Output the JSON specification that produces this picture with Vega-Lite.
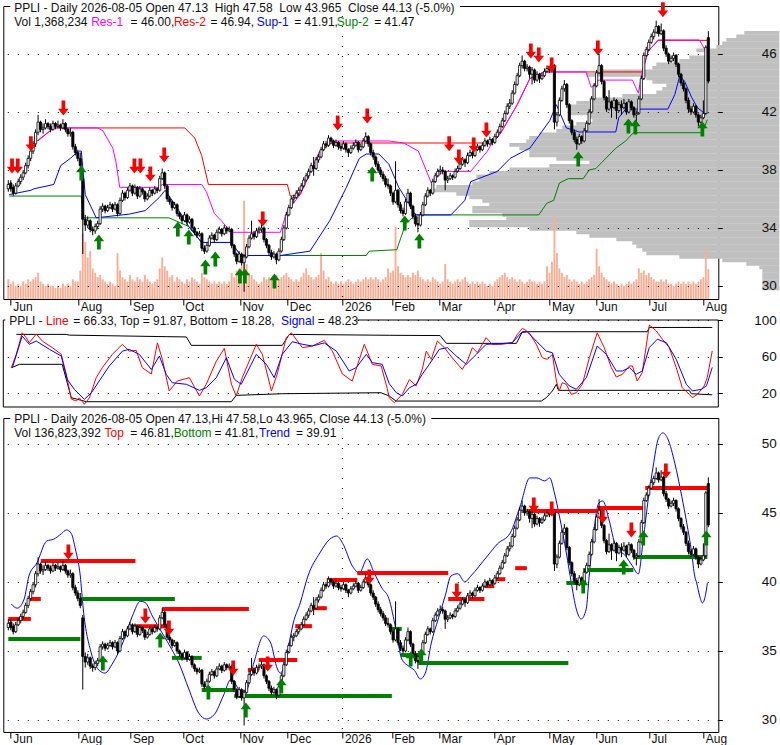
{
"$schema": "https://vega.github.io/schema/vega-lite/v6.json",
"background": "white",
"padding": {"left": 2.3, "top": 1, "right": 0, "bottom": 0},
"bounds": "flush",
"spacing": 11,
"config": {"view": {"stroke": "black", "strokeWidth": 1}, "font": "Liberation Sans"},
"resolve": {"scale": {"color": "independent", "shape": "independent"}},
"datasets": {
"one": [{"k": 1}],
"ohlc": [
{"t":0,"o":36.7,"h":37.3,"l":36.5,"c":37.0,"v":0.9},{"t":1,"o":37.1,"h":37.3,"l":36.5,"c":36.7,"v":0.7},{"t":2,"o":36.8,"h":37.0,"l":36.2,"c":36.4,"v":0.8},{"t":3,"o":36.4,"h":37.1,"l":36.3,"c":36.9,"v":0.6},{"t":4,"o":36.9,"h":37.4,"l":36.8,"c":37.2,"v":0.7},{"t":5,"o":37.2,"h":37.7,"l":37.0,"c":37.5,"v":0.6},{"t":6,"o":37.5,"h":38.0,"l":37.3,"c":37.8,"v":0.8},{"t":7,"o":37.8,"h":38.5,"l":37.7,"c":38.3,"v":0.7},{"t":8,"o":38.3,"h":39.0,"l":38.1,"c":38.8,"v":0.9},{"t":9,"o":38.8,"h":39.5,"l":38.6,"c":39.3,"v":0.8},
{"t":10,"o":39.3,"h":40.0,"l":39.1,"c":39.8,"v":0.9},{"t":11,"o":39.8,"h":40.8,"l":39.6,"c":40.6,"v":1.0},{"t":12,"o":40.6,"h":41.8,"l":40.4,"c":41.3,"v":1.2},{"t":13,"o":41.3,"h":41.4,"l":40.6,"c":40.8,"v":0.8},{"t":14,"o":40.8,"h":41.2,"l":40.5,"c":40.9,"v":0.7},{"t":15,"o":40.9,"h":41.5,"l":40.8,"c":41.2,"v":0.6},{"t":16,"o":41.2,"h":41.3,"l":40.8,"c":41.0,"v":0.7},{"t":17,"o":41.0,"h":41.2,"l":40.6,"c":40.8,"v":0.6},{"t":18,"o":40.8,"h":41.4,"l":40.7,"c":41.2,"v":0.6},{"t":19,"o":41.2,"h":41.3,"l":40.8,"c":41.0,"v":0.5},
{"t":20,"o":41.0,"h":41.4,"l":40.9,"c":41.1,"v":0.6},{"t":21,"o":41.1,"h":41.2,"l":40.7,"c":40.9,"v":0.5},{"t":22,"o":40.9,"h":41.5,"l":40.8,"c":41.2,"v":0.7},{"t":23,"o":41.2,"h":41.3,"l":40.6,"c":40.8,"v":0.6},{"t":24,"o":40.8,"h":40.9,"l":40.3,"c":40.5,"v":0.7},{"t":25,"o":40.5,"h":40.9,"l":40.3,"c":40.6,"v":0.6},{"t":26,"o":40.6,"h":40.7,"l":39.4,"c":39.6,"v":0.9},{"t":27,"o":39.6,"h":39.8,"l":39.0,"c":39.2,"v":0.8},{"t":28,"o":39.2,"h":39.4,"l":38.6,"c":38.8,"v":0.8},{"t":29,"o":38.8,"h":39.2,"l":38.1,"c":38.3,"v":1.3},
{"t":30,"o":37.4,"h":37.6,"l":32.2,"c":34.6,"v":3.0},{"t":31,"o":34.6,"h":34.9,"l":33.8,"c":34.2,"v":2.6},{"t":32,"o":34.2,"h":34.8,"l":34.0,"c":34.5,"v":1.9},{"t":33,"o":34.5,"h":34.6,"l":33.7,"c":33.9,"v":2.2},{"t":34,"o":33.9,"h":34.1,"l":33.5,"c":33.8,"v":1.4},{"t":35,"o":33.8,"h":34.3,"l":33.6,"c":34.1,"v":1.2},{"t":36,"o":34.1,"h":34.5,"l":33.9,"c":34.3,"v":1.0},{"t":37,"o":34.3,"h":35.5,"l":34.2,"c":35.3,"v":1.1},{"t":38,"o":35.3,"h":35.7,"l":35.1,"c":35.5,"v":0.9},{"t":39,"o":35.5,"h":35.6,"l":35.0,"c":35.2,"v":0.8},
{"t":40,"o":35.2,"h":35.6,"l":35.1,"c":35.4,"v":0.7},{"t":41,"o":35.4,"h":35.8,"l":35.3,"c":35.6,"v":0.8},{"t":42,"o":35.6,"h":35.7,"l":35.1,"c":35.3,"v":0.7},{"t":43,"o":35.3,"h":35.8,"l":35.2,"c":35.6,"v":0.6},{"t":44,"o":35.6,"h":35.7,"l":34.8,"c":35.0,"v":2.1},{"t":45,"o":35.0,"h":36.1,"l":34.9,"c":35.9,"v":1.3},{"t":46,"o":35.9,"h":36.6,"l":35.8,"c":36.4,"v":1.0},{"t":47,"o":36.4,"h":36.5,"l":35.9,"c":36.1,"v":0.9},{"t":48,"o":36.1,"h":36.8,"l":36.0,"c":36.6,"v":0.8},{"t":49,"o":36.6,"h":37.1,"l":36.5,"c":36.9,"v":1.1},
{"t":50,"o":36.9,"h":37.0,"l":36.2,"c":36.4,"v":0.9},{"t":51,"o":36.4,"h":37.0,"l":36.3,"c":36.8,"v":0.8},{"t":52,"o":36.8,"h":36.9,"l":36.0,"c":36.2,"v":1.0},{"t":53,"o":36.2,"h":36.9,"l":36.1,"c":36.7,"v":0.9},{"t":54,"o":36.7,"h":36.8,"l":36.3,"c":36.5,"v":0.8},{"t":55,"o":36.5,"h":36.6,"l":35.8,"c":36.0,"v":1.1},{"t":56,"o":36.0,"h":36.4,"l":35.9,"c":36.2,"v":0.9},{"t":57,"o":36.2,"h":36.8,"l":36.1,"c":36.6,"v":0.8},{"t":58,"o":36.6,"h":36.7,"l":36.2,"c":36.4,"v":0.7},{"t":59,"o":36.4,"h":36.9,"l":36.3,"c":36.7,"v":0.8},
{"t":60,"o":36.7,"h":36.8,"l":36.4,"c":36.6,"v":0.9},{"t":61,"o":36.6,"h":37.6,"l":36.5,"c":37.4,"v":1.4},{"t":62,"o":37.4,"h":38.1,"l":37.3,"c":37.8,"v":1.9},{"t":63,"o":37.8,"h":37.9,"l":36.7,"c":36.9,"v":1.5},{"t":64,"o":36.9,"h":37.0,"l":35.8,"c":36.0,"v":1.3},{"t":65,"o":36.0,"h":36.2,"l":35.6,"c":35.8,"v":1.0},{"t":66,"o":35.8,"h":35.9,"l":35.2,"c":35.4,"v":1.1},{"t":67,"o":35.4,"h":35.8,"l":35.3,"c":35.6,"v":0.8},{"t":68,"o":35.6,"h":35.7,"l":34.8,"c":35.0,"v":1.0},{"t":69,"o":35.0,"h":35.1,"l":34.6,"c":34.8,"v":0.9},
{"t":70,"o":34.8,"h":34.9,"l":34.3,"c":34.5,"v":0.8},{"t":71,"o":34.5,"h":35.1,"l":34.4,"c":34.9,"v":0.7},{"t":72,"o":34.9,"h":35.0,"l":34.2,"c":34.4,"v":0.9},{"t":73,"o":34.4,"h":34.8,"l":34.3,"c":34.6,"v":0.8},{"t":74,"o":34.6,"h":34.7,"l":33.8,"c":34.0,"v":1.0},{"t":75,"o":34.0,"h":34.1,"l":33.5,"c":33.7,"v":0.9},{"t":76,"o":33.7,"h":33.8,"l":33.3,"c":33.5,"v":0.8},{"t":77,"o":33.5,"h":33.8,"l":33.4,"c":33.6,"v":0.7},{"t":78,"o":33.6,"h":33.7,"l":32.4,"c":32.6,"v":1.2},{"t":79,"o":32.6,"h":32.8,"l":32.2,"c":32.4,"v":1.0},
{"t":80,"o":32.4,"h":33.0,"l":32.3,"c":32.8,"v":0.9},{"t":81,"o":32.8,"h":33.5,"l":32.7,"c":33.3,"v":0.8},{"t":82,"o":33.3,"h":33.7,"l":33.2,"c":33.5,"v":0.7},{"t":83,"o":33.5,"h":33.6,"l":33.0,"c":33.2,"v":0.8},{"t":84,"o":33.2,"h":33.9,"l":33.1,"c":33.7,"v":0.7},{"t":85,"o":33.7,"h":34.1,"l":33.6,"c":33.9,"v":0.8},{"t":86,"o":33.9,"h":34.0,"l":33.4,"c":33.6,"v":0.7},{"t":87,"o":33.6,"h":34.2,"l":33.5,"c":34.0,"v":0.8},{"t":88,"o":34.0,"h":34.1,"l":33.6,"c":33.8,"v":0.7},{"t":89,"o":33.8,"h":34.1,"l":33.7,"c":33.9,"v":0.8},
{"t":90,"o":33.9,"h":34.0,"l":32.6,"c":32.8,"v":1.2},{"t":91,"o":32.8,"h":32.9,"l":32.0,"c":32.2,"v":1.0},{"t":92,"o":32.2,"h":32.3,"l":31.5,"c":31.7,"v":1.3},{"t":93,"o":31.7,"h":32.4,"l":31.6,"c":32.2,"v":1.4},{"t":94,"o":32.2,"h":32.3,"l":31.4,"c":31.6,"v":1.5},{"t":95,"o":31.6,"h":32.2,"l":29.6,"c":32.0,"v":4.5},{"t":96,"o":32.0,"h":32.9,"l":31.9,"c":32.7,"v":1.6},{"t":97,"o":32.7,"h":33.5,"l":32.6,"c":33.3,"v":1.2},{"t":98,"o":33.3,"h":34.5,"l":33.2,"c":33.6,"v":1.1},{"t":99,"o":33.6,"h":33.8,"l":33.2,"c":33.4,"v":0.9},
{"t":100,"o":33.4,"h":34.0,"l":33.3,"c":33.8,"v":0.8},{"t":101,"o":33.8,"h":34.1,"l":33.6,"c":33.9,"v":0.7},{"t":102,"o":33.9,"h":34.3,"l":33.7,"c":34.0,"v":0.8},{"t":103,"o":34.0,"h":34.1,"l":33.0,"c":33.2,"v":1.0},{"t":104,"o":33.2,"h":33.3,"l":32.6,"c":32.8,"v":0.9},{"t":105,"o":32.8,"h":32.9,"l":32.1,"c":32.3,"v":1.0},{"t":106,"o":32.3,"h":32.5,"l":31.8,"c":32.0,"v":0.9},{"t":107,"o":32.0,"h":32.4,"l":31.9,"c":32.2,"v":0.8},{"t":108,"o":32.2,"h":32.3,"l":31.5,"c":31.8,"v":1.1},{"t":109,"o":31.8,"h":32.6,"l":31.7,"c":32.4,"v":0.9},
{"t":110,"o":32.4,"h":33.4,"l":32.3,"c":33.2,"v":1.0},{"t":111,"o":33.2,"h":34.2,"l":33.1,"c":34.0,"v":1.1},{"t":112,"o":34.0,"h":35.1,"l":33.9,"c":34.9,"v":1.2},{"t":113,"o":34.9,"h":35.6,"l":34.8,"c":35.4,"v":1.0},{"t":114,"o":35.4,"h":36.2,"l":35.3,"c":36.0,"v":0.9},{"t":115,"o":36.0,"h":36.3,"l":35.7,"c":36.1,"v":0.8},{"t":116,"o":36.1,"h":36.6,"l":36.0,"c":36.4,"v":0.9},{"t":117,"o":36.4,"h":36.8,"l":36.2,"c":36.6,"v":0.8},{"t":118,"o":36.6,"h":37.1,"l":36.5,"c":36.9,"v":1.0},{"t":119,"o":36.9,"h":37.5,"l":36.8,"c":37.3,"v":1.2},
{"t":120,"o":37.3,"h":37.8,"l":37.2,"c":37.6,"v":1.4},{"t":121,"o":37.6,"h":38.1,"l":37.4,"c":37.9,"v":1.1},{"t":122,"o":37.9,"h":38.5,"l":37.8,"c":38.3,"v":1.0},{"t":123,"o":38.3,"h":38.9,"l":37.6,"c":38.1,"v":0.9},{"t":124,"o":38.1,"h":38.9,"l":38.0,"c":38.7,"v":1.0},{"t":125,"o":38.7,"h":39.1,"l":38.5,"c":38.9,"v":1.1},{"t":126,"o":38.9,"h":39.6,"l":38.8,"c":39.4,"v":2.1},{"t":127,"o":39.4,"h":40.0,"l":39.3,"c":39.8,"v":1.3},{"t":128,"o":39.8,"h":40.0,"l":39.5,"c":39.7,"v":0.9},{"t":129,"o":39.7,"h":40.4,"l":39.6,"c":40.2,"v":1.0},
{"t":130,"o":40.2,"h":40.3,"l":39.8,"c":40.0,"v":0.8},{"t":131,"o":40.0,"h":40.1,"l":39.5,"c":39.7,"v":0.7},{"t":132,"o":39.7,"h":40.1,"l":39.6,"c":39.9,"v":0.8},{"t":133,"o":39.9,"h":40.0,"l":39.4,"c":39.6,"v":0.7},{"t":134,"o":39.6,"h":39.8,"l":39.3,"c":39.5,"v":0.8},{"t":135,"o":39.5,"h":40.0,"l":39.4,"c":39.8,"v":0.7},{"t":136,"o":39.8,"h":39.9,"l":39.2,"c":39.4,"v":0.8},{"t":137,"o":39.4,"h":39.5,"l":38.9,"c":39.2,"v":0.9},{"t":138,"o":39.2,"h":39.7,"l":39.1,"c":39.5,"v":0.8},{"t":139,"o":39.5,"h":39.9,"l":39.4,"c":39.7,"v":0.7},
{"t":140,"o":39.7,"h":40.1,"l":39.6,"c":39.9,"v":0.8},{"t":141,"o":39.9,"h":40.0,"l":39.2,"c":39.4,"v":0.9},{"t":142,"o":39.4,"h":39.8,"l":39.3,"c":39.6,"v":0.8},{"t":143,"o":39.6,"h":40.2,"l":39.5,"c":40.0,"v":0.9},{"t":144,"o":40.0,"h":40.6,"l":39.9,"c":40.3,"v":1.0},{"t":145,"o":40.3,"h":40.4,"l":39.6,"c":39.8,"v":0.9},{"t":146,"o":39.8,"h":39.9,"l":39.0,"c":39.2,"v":1.0},{"t":147,"o":39.2,"h":39.4,"l":38.7,"c":38.9,"v":0.9},{"t":148,"o":38.9,"h":39.0,"l":38.2,"c":38.4,"v":1.0},{"t":149,"o":38.4,"h":38.6,"l":37.8,"c":38.0,"v":0.9},
{"t":150,"o":38.0,"h":38.2,"l":37.5,"c":37.7,"v":0.8},{"t":151,"o":37.7,"h":37.9,"l":37.2,"c":37.4,"v":0.9},{"t":152,"o":37.4,"h":37.6,"l":36.8,"c":37.0,"v":1.0},{"t":153,"o":37.0,"h":37.4,"l":36.7,"c":36.9,"v":1.4},{"t":154,"o":36.9,"h":37.0,"l":36.2,"c":36.4,"v":1.2},{"t":155,"o":36.4,"h":36.5,"l":35.6,"c":35.8,"v":1.3},{"t":156,"o":35.8,"h":38.6,"l":35.7,"c":36.6,"v":3.3},{"t":157,"o":36.6,"h":36.7,"l":35.4,"c":35.6,"v":1.5},{"t":158,"o":35.6,"h":35.8,"l":35.0,"c":35.2,"v":1.2},{"t":159,"o":35.2,"h":35.4,"l":34.8,"c":35.0,"v":1.1},
{"t":160,"o":35.0,"h":36.0,"l":34.9,"c":35.8,"v":1.0},{"t":161,"o":35.8,"h":36.7,"l":35.7,"c":36.4,"v":1.1},{"t":162,"o":36.4,"h":36.5,"l":35.3,"c":35.5,"v":1.0},{"t":163,"o":35.5,"h":35.6,"l":34.6,"c":34.8,"v":1.2},{"t":164,"o":34.8,"h":35.0,"l":34.1,"c":34.3,"v":1.1},{"t":165,"o":34.3,"h":34.8,"l":33.7,"c":34.2,"v":1.3},{"t":166,"o":34.2,"h":35.1,"l":34.1,"c":34.9,"v":1.0},{"t":167,"o":34.9,"h":35.8,"l":34.8,"c":35.6,"v":0.9},{"t":168,"o":35.6,"h":36.4,"l":35.5,"c":36.2,"v":0.8},{"t":169,"o":36.2,"h":36.8,"l":36.1,"c":36.6,"v":0.9},
{"t":170,"o":36.6,"h":36.7,"l":36.2,"c":36.4,"v":0.8},{"t":171,"o":36.4,"h":37.4,"l":36.3,"c":37.2,"v":1.0},{"t":172,"o":37.2,"h":37.8,"l":37.1,"c":37.6,"v":0.9},{"t":173,"o":37.6,"h":38.1,"l":37.5,"c":37.9,"v":0.8},{"t":174,"o":37.9,"h":38.3,"l":37.7,"c":38.0,"v":0.7},{"t":175,"o":38.0,"h":38.2,"l":37.7,"c":37.9,"v":0.8},{"t":176,"o":37.9,"h":38.0,"l":36.6,"c":37.3,"v":1.6},{"t":177,"o":37.3,"h":37.6,"l":37.1,"c":37.4,"v":0.9},{"t":178,"o":37.4,"h":37.8,"l":37.3,"c":37.6,"v":0.8},{"t":179,"o":37.6,"h":37.7,"l":37.3,"c":37.5,"v":0.7},
{"t":180,"o":37.5,"h":38.1,"l":37.4,"c":37.9,"v":0.8},{"t":181,"o":37.9,"h":38.3,"l":37.8,"c":38.1,"v":0.9},{"t":182,"o":38.1,"h":38.6,"l":38.0,"c":38.4,"v":0.8},{"t":183,"o":38.4,"h":38.9,"l":38.3,"c":38.7,"v":0.9},{"t":184,"o":38.7,"h":38.8,"l":38.2,"c":38.5,"v":1.0},{"t":185,"o":38.5,"h":39.2,"l":38.4,"c":39.0,"v":0.8},{"t":186,"o":39.0,"h":39.4,"l":38.9,"c":39.2,"v":0.7},{"t":187,"o":39.2,"h":39.3,"l":38.8,"c":39.0,"v":0.8},{"t":188,"o":39.0,"h":39.6,"l":38.9,"c":39.4,"v":0.7},{"t":189,"o":39.4,"h":39.8,"l":39.3,"c":39.6,"v":0.8},
{"t":190,"o":39.6,"h":39.7,"l":39.2,"c":39.4,"v":0.7},{"t":191,"o":39.4,"h":39.9,"l":39.3,"c":39.7,"v":0.8},{"t":192,"o":39.7,"h":40.2,"l":39.6,"c":40.0,"v":0.7},{"t":193,"o":40.0,"h":40.1,"l":39.6,"c":39.8,"v":0.6},{"t":194,"o":39.8,"h":40.3,"l":39.7,"c":40.1,"v":0.7},{"t":195,"o":40.1,"h":40.2,"l":39.7,"c":39.9,"v":0.6},{"t":196,"o":39.9,"h":40.5,"l":39.8,"c":40.3,"v":0.8},{"t":197,"o":40.3,"h":40.8,"l":40.2,"c":40.6,"v":0.9},{"t":198,"o":40.6,"h":41.2,"l":40.5,"c":41.0,"v":1.0},{"t":199,"o":41.0,"h":41.6,"l":40.9,"c":41.4,"v":1.1},
{"t":200,"o":41.4,"h":42.1,"l":41.3,"c":41.9,"v":1.2},{"t":201,"o":41.9,"h":42.6,"l":41.8,"c":42.4,"v":1.0},{"t":202,"o":42.4,"h":42.9,"l":42.2,"c":42.6,"v":0.9},{"t":203,"o":42.6,"h":43.5,"l":42.5,"c":43.3,"v":1.0},{"t":204,"o":43.3,"h":44.1,"l":43.2,"c":43.9,"v":0.9},{"t":205,"o":43.9,"h":44.7,"l":43.8,"c":44.5,"v":0.8},{"t":206,"o":44.5,"h":45.4,"l":44.4,"c":45.2,"v":0.9},{"t":207,"o":45.2,"h":45.9,"l":45.0,"c":45.5,"v":0.8},{"t":208,"o":45.5,"h":45.6,"l":44.8,"c":45.0,"v":0.7},{"t":209,"o":45.0,"h":45.3,"l":44.8,"c":45.1,"v":0.8},
{"t":210,"o":45.1,"h":45.2,"l":44.3,"c":44.6,"v":0.9},{"t":211,"o":44.6,"h":45.1,"l":43.9,"c":44.9,"v":0.8},{"t":212,"o":44.9,"h":45.0,"l":44.0,"c":44.2,"v":0.8},{"t":213,"o":44.2,"h":44.8,"l":44.1,"c":44.6,"v":0.7},{"t":214,"o":44.6,"h":44.7,"l":44.0,"c":44.3,"v":0.8},{"t":215,"o":44.3,"h":44.7,"l":44.2,"c":44.5,"v":0.7},{"t":216,"o":44.5,"h":45.0,"l":44.4,"c":44.8,"v":0.8},{"t":217,"o":44.8,"h":45.2,"l":44.7,"c":45.0,"v":1.5},{"t":218,"o":45.0,"h":45.1,"l":44.7,"c":44.9,"v":1.2},{"t":219,"o":44.9,"h":45.4,"l":44.8,"c":45.2,"v":1.7},
{"t":220,"o":45.2,"h":45.3,"l":40.8,"c":41.3,"v":3.8},{"t":221,"o":41.3,"h":42.0,"l":41.0,"c":41.8,"v":2.1},{"t":222,"o":41.8,"h":43.0,"l":41.7,"c":42.8,"v":1.4},{"t":223,"o":42.8,"h":43.8,"l":42.7,"c":43.6,"v":1.2},{"t":224,"o":43.6,"h":44.2,"l":43.4,"c":43.9,"v":1.0},{"t":225,"o":43.9,"h":44.0,"l":42.3,"c":42.5,"v":1.1},{"t":226,"o":42.5,"h":42.6,"l":41.2,"c":41.4,"v":0.9},{"t":227,"o":41.4,"h":41.5,"l":40.4,"c":40.6,"v":0.8},{"t":228,"o":40.6,"h":40.8,"l":39.9,"c":40.1,"v":0.9},{"t":229,"o":40.1,"h":40.3,"l":39.4,"c":39.8,"v":0.8},
{"t":230,"o":39.8,"h":40.5,"l":39.7,"c":40.3,"v":0.7},{"t":231,"o":40.3,"h":40.4,"l":39.8,"c":40.0,"v":0.8},{"t":232,"o":40.0,"h":40.9,"l":39.9,"c":40.7,"v":0.7},{"t":233,"o":40.7,"h":41.4,"l":40.6,"c":41.2,"v":0.8},{"t":234,"o":41.2,"h":42.2,"l":41.1,"c":42.0,"v":0.9},{"t":235,"o":42.0,"h":43.1,"l":41.9,"c":42.9,"v":1.0},{"t":236,"o":42.9,"h":44.0,"l":42.8,"c":43.8,"v":1.1},{"t":237,"o":43.8,"h":44.9,"l":43.7,"c":44.7,"v":2.3},{"t":238,"o":44.7,"h":46.0,"l":44.6,"c":45.2,"v":1.5},{"t":239,"o":45.2,"h":45.3,"l":43.9,"c":44.1,"v":1.2},
{"t":240,"o":44.1,"h":44.2,"l":42.8,"c":43.0,"v":1.0},{"t":241,"o":43.0,"h":43.1,"l":42.0,"c":42.2,"v":0.9},{"t":242,"o":42.2,"h":43.5,"l":42.1,"c":42.7,"v":0.8},{"t":243,"o":42.7,"h":42.8,"l":41.6,"c":42.3,"v":0.7},{"t":244,"o":42.3,"h":43.0,"l":42.2,"c":42.8,"v":0.8},{"t":245,"o":42.8,"h":42.9,"l":41.5,"c":42.1,"v":0.7},{"t":246,"o":42.1,"h":42.7,"l":42.0,"c":42.5,"v":0.6},{"t":247,"o":42.5,"h":42.8,"l":41.8,"c":42.3,"v":0.7},{"t":248,"o":42.3,"h":42.9,"l":42.2,"c":42.6,"v":0.6},{"t":249,"o":42.6,"h":42.7,"l":41.8,"c":42.0,"v":0.7},
{"t":250,"o":42.0,"h":42.9,"l":41.9,"c":42.7,"v":0.8},{"t":251,"o":42.7,"h":42.8,"l":42.1,"c":42.3,"v":0.7},{"t":252,"o":42.3,"h":42.4,"l":41.6,"c":41.8,"v":0.8},{"t":253,"o":41.8,"h":42.1,"l":41.2,"c":41.9,"v":0.9},{"t":254,"o":41.9,"h":43.1,"l":41.8,"c":42.9,"v":1.4},{"t":255,"o":42.9,"h":44.5,"l":42.8,"c":44.3,"v":1.2},{"t":256,"o":44.3,"h":46.1,"l":44.2,"c":45.9,"v":1.3},{"t":257,"o":45.9,"h":46.5,"l":45.8,"c":46.3,"v":1.1},{"t":258,"o":46.3,"h":47.0,"l":46.2,"c":46.8,"v":1.2},{"t":259,"o":46.8,"h":47.4,"l":46.7,"c":47.2,"v":1.0},
{"t":260,"o":47.2,"h":47.7,"l":47.0,"c":47.5,"v":0.9},{"t":261,"o":47.5,"h":48.3,"l":47.4,"c":47.9,"v":0.8},{"t":262,"o":47.9,"h":48.0,"l":47.2,"c":47.4,"v":0.8},{"t":263,"o":47.4,"h":48.1,"l":47.3,"c":47.6,"v":0.9},{"t":264,"o":47.6,"h":47.7,"l":46.2,"c":46.4,"v":0.8},{"t":265,"o":46.4,"h":46.6,"l":45.8,"c":46.0,"v":0.9},{"t":266,"o":46.0,"h":46.1,"l":45.3,"c":45.5,"v":0.7},{"t":267,"o":45.5,"h":45.9,"l":45.4,"c":45.7,"v":0.7},{"t":268,"o":45.7,"h":46.1,"l":45.5,"c":45.9,"v":0.6},{"t":269,"o":45.9,"h":46.0,"l":45.1,"c":45.3,"v":0.7},
{"t":270,"o":45.3,"h":45.4,"l":44.4,"c":44.6,"v":0.8},{"t":271,"o":44.6,"h":44.7,"l":43.8,"c":44.0,"v":0.7},{"t":272,"o":44.0,"h":44.2,"l":43.4,"c":43.6,"v":0.8},{"t":273,"o":43.6,"h":43.7,"l":42.6,"c":42.8,"v":0.7},{"t":274,"o":42.8,"h":43.0,"l":42.0,"c":42.2,"v":0.8},{"t":275,"o":42.2,"h":42.4,"l":41.8,"c":42.0,"v":0.7},{"t":276,"o":42.0,"h":42.6,"l":41.9,"c":42.4,"v":0.8},{"t":277,"o":42.4,"h":42.5,"l":41.6,"c":41.8,"v":0.7},{"t":278,"o":41.8,"h":41.9,"l":41.0,"c":41.3,"v":0.8},{"t":279,"o":41.3,"h":41.8,"l":41.2,"c":41.6,"v":0.9},
{"t":280,"o":41.6,"h":42.8,"l":41.5,"c":41.9,"v":1.0},{"t":281,"o":41.9,"h":46.6,"l":41.8,"c":46.45,"v":2.3},{"t":282,"o":47.13,"h":47.58,"l":43.965,"c":44.13,"v":1.37}
],
"profile": [
{"p":47.75,"pv":35},{"p":47.5,"pv":43},{"p":47.25,"pv":53},{"p":47.0,"pv":57},{"p":46.75,"pv":63},{"p":46.5,"pv":83},{"p":46.25,"pv":70},{"p":46.0,"pv":90},{"p":45.75,"pv":100},{"p":45.5,"pv":123},{"p":45.25,"pv":127},{"p":45.0,"pv":177},{"p":44.75,"pv":193},{"p":44.5,"pv":133},{"p":44.25,"pv":127},{"p":44.0,"pv":113},{"p":43.75,"pv":117},{"p":43.5,"pv":123},{"p":43.25,"pv":157},{"p":43.0,"pv":190},{"p":42.75,"pv":203},{"p":42.5,"pv":213},{"p":42.25,"pv":210},{"p":42.0,"pv":210},{"p":41.75,"pv":190},{"p":41.5,"pv":187},{"p":41.25,"pv":203},{"p":41.0,"pv":217},{"p":40.75,"pv":223},{"p":40.5,"pv":240},{"p":40.25,"pv":250},{"p":40.0,"pv":253},{"p":39.75,"pv":270},{"p":39.5,"pv":260},{"p":39.25,"pv":250},{"p":39.0,"pv":250},{"p":38.75,"pv":223},{"p":38.5,"pv":190},{"p":38.25,"pv":230},{"p":38.0,"pv":270},{"p":37.75,"pv":290},{"p":37.5,"pv":303},{"p":37.25,"pv":300},{"p":37.0,"pv":307},{"p":36.75,"pv":343},{"p":36.5,"pv":347},{"p":36.25,"pv":323},{"p":36.0,"pv":310},{"p":35.75,"pv":297},{"p":35.5,"pv":290},{"p":35.25,"pv":307},{"p":35.0,"pv":307},{"p":34.75,"pv":277},{"p":34.5,"pv":273},{"p":34.25,"pv":310},{"p":34.0,"pv":310},{"p":33.75,"pv":250},{"p":33.5,"pv":203},{"p":33.25,"pv":190},{"p":33.0,"pv":163},{"p":32.75,"pv":147},{"p":32.5,"pv":143},{"p":32.25,"pv":137},{"p":32.0,"pv":133},{"p":31.75,"pv":100},{"p":31.5,"pv":57},{"p":31.25,"pv":33},{"p":31.0,"pv":20},{"p":30.75,"pv":17},{"p":30.5,"pv":17},{"p":30.25,"pv":17},{"p":30.0,"pv":17},{"p":29.75,"pv":17},{"p":29.5,"pv":17}
],
"levels": [
{"t":11.9,"v":40.0,"s":"Res-2"},{"t":18.3,"v":40.9,"s":"Res-2"},{"t":71.1,"v":40.9,"s":"Res-2"},{"t":75.1,"v":40.2,"s":"Res-2"},{"t":77.9,"v":39.0,"s":"Res-2"},{"t":80.6,"v":37.0,"s":"Res-2"},{"t":112.4,"v":37.0,"s":"Res-2"},{"t":113.6,"v":36.2,"s":"Res-2"},{"t":117.6,"v":36.3,"s":"Res-2"},{"t":121.5,"v":37.8,"s":"Res-2"},{"t":125.5,"v":39.3,"s":"Res-2"},{"t":130.3,"v":39.86,"s":"Res-2"},{"t":195,"v":39.86,"s":"Res-2"},{"t":198.2,"v":40.5,"s":"Res-2"},{"t":205,"v":42.5,"s":"Res-2"},{"t":210.1,"v":44.3,"s":"Res-2"},{"t":215.7,"v":44.76,"s":"Res-2"},{"t":255.4,"v":44.76,"s":"Res-2"},{"t":257.8,"v":46.2,"s":"Res-2"},{"t":261.8,"v":46.94,"s":"Res-2"},{"t":281.6,"v":46.94,"s":"Res-2"},
{"t":0.4,"v":36.2,"s":"Sup-2"},{"t":29.4,"v":36.2,"s":"Sup-2"},{"t":30.2,"v":34.7,"s":"Sup-2"},{"t":64.7,"v":34.7,"s":"Sup-2"},{"t":72.7,"v":34.1,"s":"Sup-2"},{"t":77.9,"v":33.0,"s":"Sup-2"},{"t":89.8,"v":33.0,"s":"Sup-2"},{"t":93.7,"v":32.1,"s":"Sup-2"},{"t":144.2,"v":32.1,"s":"Sup-2"},{"t":145.4,"v":32.4,"s":"Sup-2"},{"t":156.5,"v":32.5,"s":"Sup-2"},{"t":160.1,"v":34.3,"s":"Sup-2"},{"t":164,"v":34.9,"s":"Sup-2"},{"t":213.7,"v":34.9,"s":"Sup-2"},{"t":216.9,"v":35.7,"s":"Sup-2"},{"t":219.7,"v":35.9,"s":"Sup-2"},{"t":222,"v":37.1,"s":"Sup-2"},{"t":225.6,"v":37.4,"s":"Sup-2"},{"t":231.6,"v":37.4,"s":"Sup-2"},{"t":234,"v":38.0,"s":"Sup-2"},{"t":236.7,"v":38.1,"s":"Sup-2"},{"t":240.7,"v":38.8,"s":"Sup-2"},{"t":244.7,"v":39.5,"s":"Sup-2"},{"t":248.7,"v":40.0,"s":"Sup-2"},{"t":251.8,"v":40.57,"s":"Sup-2"},{"t":279.6,"v":40.57,"s":"Sup-2"},{"t":281.6,"v":41.47,"s":"Sup-2"},
{"t":0.4,"v":36.3,"s":"Sup-1"},{"t":9.1,"v":36.6,"s":"Sup-1"},{"t":10.3,"v":36.7,"s":"Sup-1"},{"t":18.3,"v":37.0,"s":"Sup-1"},{"t":21.1,"v":38.3,"s":"Sup-1"},{"t":25,"v":38.8,"s":"Sup-1"},{"t":28.2,"v":39.3,"s":"Sup-1"},{"t":29.4,"v":39.3,"s":"Sup-1"},{"t":31,"v":36.3,"s":"Sup-1"},{"t":35.4,"v":34.7,"s":"Sup-1"},{"t":48.9,"v":34.96,"s":"Sup-1"},{"t":55.2,"v":35.2,"s":"Sup-1"},{"t":60.8,"v":36.1,"s":"Sup-1"},{"t":63.2,"v":36.6,"s":"Sup-1"},{"t":68.7,"v":35.2,"s":"Sup-1"},{"t":72.7,"v":34.1,"s":"Sup-1"},{"t":77.9,"v":33.0,"s":"Sup-1"},{"t":89.8,"v":33.0,"s":"Sup-1"},{"t":93.7,"v":32.1,"s":"Sup-1"},{"t":109.6,"v":32.1,"s":"Sup-1"},{"t":121.5,"v":32.4,"s":"Sup-1"},{"t":129.5,"v":34.5,"s":"Sup-1"},{"t":136.2,"v":36.8,"s":"Sup-1"},{"t":141.4,"v":38.8,"s":"Sup-1"},{"t":144.2,"v":39.1,"s":"Sup-1"},{"t":149.3,"v":39.1,"s":"Sup-1"},{"t":153.3,"v":38.4,"s":"Sup-1"},{"t":157.3,"v":36.8,"s":"Sup-1"},{"t":161.3,"v":35.7,"s":"Sup-1"},{"t":164,"v":34.9,"s":"Sup-1"},{"t":178.3,"v":34.9,"s":"Sup-1"},{"t":183.9,"v":35.9,"s":"Sup-1"},{"t":186.3,"v":37.2,"s":"Sup-1"},{"t":197,"v":37.9,"s":"Sup-1"},{"t":202.2,"v":38.8,"s":"Sup-1"},{"t":207.7,"v":39.3,"s":"Sup-1"},{"t":210.1,"v":39.5,"s":"Sup-1"},{"t":218.1,"v":41.4,"s":"Sup-1"},{"t":220.8,"v":42.5,"s":"Sup-1"},{"t":224.8,"v":40.9,"s":"Sup-1"},{"t":230,"v":40.62,"s":"Sup-1"},{"t":244.7,"v":40.62,"s":"Sup-1"},{"t":245.9,"v":41.6,"s":"Sup-1"},{"t":248.7,"v":42.2,"s":"Sup-1"},{"t":265.7,"v":42.2,"s":"Sup-1"},{"t":268.5,"v":43.2,"s":"Sup-1"},{"t":270.5,"v":44.5,"s":"Sup-1"},{"t":272.5,"v":44.1,"s":"Sup-1"},{"t":275.3,"v":43.0,"s":"Sup-1"},{"t":277.6,"v":42.3,"s":"Sup-1"},{"t":280.4,"v":41.91,"s":"Sup-1"},{"t":281.6,"v":41.91,"s":"Sup-1"},
{"t":11.5,"v":40.0,"s":"Res-1"},{"t":18.3,"v":40.9,"s":"Res-1"},{"t":36.1,"v":40.9,"s":"Res-1"},{"t":38.1,"v":40.7,"s":"Res-1"},{"t":42.1,"v":39.5,"s":"Res-1"},{"t":43.3,"v":38.6,"s":"Res-1"},{"t":44.9,"v":36.8,"s":"Res-1"},{"t":60.8,"v":36.8,"s":"Res-1"},{"t":62,"v":37.0,"s":"Res-1"},{"t":77.9,"v":37.0,"s":"Res-1"},{"t":79.8,"v":36.5,"s":"Res-1"},{"t":83,"v":35.0,"s":"Res-1"},{"t":85.8,"v":34.5,"s":"Res-1"},{"t":89.8,"v":33.7,"s":"Res-1"},{"t":109.6,"v":33.7,"s":"Res-1"},{"t":112.4,"v":35.2,"s":"Res-1"},{"t":117.6,"v":36.3,"s":"Res-1"},{"t":121.5,"v":37.8,"s":"Res-1"},{"t":125.5,"v":39.3,"s":"Res-1"},{"t":129.5,"v":40.0,"s":"Res-1"},{"t":153.3,"v":40.0,"s":"Res-1"},{"t":159.3,"v":39.86,"s":"Res-1"},{"t":165.2,"v":39.3,"s":"Res-1"},{"t":170.4,"v":37.1,"s":"Res-1"},{"t":175.2,"v":37.9,"s":"Res-1"},{"t":186.3,"v":37.9,"s":"Res-1"},{"t":193,"v":39.3,"s":"Res-1"},{"t":195,"v":39.9,"s":"Res-1"},{"t":198.2,"v":40.5,"s":"Res-1"},{"t":205,"v":42.5,"s":"Res-1"},{"t":210.1,"v":44.3,"s":"Res-1"},{"t":215.7,"v":44.76,"s":"Res-1"},{"t":232.8,"v":44.76,"s":"Res-1"},{"t":234.8,"v":43.7,"s":"Res-1"},{"t":237.9,"v":44.2,"s":"Res-1"},{"t":251.4,"v":44.2,"s":"Res-1"},{"t":253.8,"v":43.3,"s":"Res-1"},{"t":255.4,"v":44.8,"s":"Res-1"},{"t":257.8,"v":46.2,"s":"Res-1"},{"t":261.8,"v":46.97,"s":"Res-1"},{"t":278.4,"v":46.97,"s":"Res-1"},{"t":281.6,"v":46.0,"s":"Res-1"}
],
"arrowsTop": [
{"t":1.5,"y":38.28,"d":"down"},{"t":3.8,"y":38.28,"d":"down"},{"t":9.1,"y":39.8,"d":"down"},{"t":22.2,"y":42.28,"d":"down"},{"t":50.8,"y":38.28,"d":"down"},{"t":53.2,"y":38.28,"d":"down"},{"t":57.2,"y":37.72,"d":"down"},{"t":62.8,"y":39.03,"d":"down"},{"t":102.5,"y":34.62,"d":"down"},{"t":132.7,"y":41.24,"d":"down"},{"t":144.6,"y":41.72,"d":"down"},{"t":177.6,"y":39.8,"d":"down"},{"t":181.5,"y":38.9,"d":"down"},{"t":187.5,"y":39.72,"d":"down"},{"t":192.6,"y":40.76,"d":"down"},{"t":210.5,"y":46.21,"d":"down"},{"t":213.7,"y":45.93,"d":"down"},{"t":218.9,"y":45.24,"d":"down"},{"t":237.5,"y":46.41,"d":"down"},{"t":263.7,"y":49.05,"d":"down"},
{"t":29.4,"y":37.79,"d":"up"},{"t":36.5,"y":33.03,"d":"up"},{"t":68.3,"y":33.93,"d":"up"},{"t":72.7,"y":33.38,"d":"up"},{"t":79.4,"y":31.31,"d":"up"},{"t":83.4,"y":31.86,"d":"up"},{"t":93.3,"y":30.69,"d":"up"},{"t":95.3,"y":30.69,"d":"up"},{"t":107.2,"y":30.34,"d":"up"},{"t":146.6,"y":37.72,"d":"up"},{"t":159.7,"y":34.34,"d":"up"},{"t":165.6,"y":33.1,"d":"up"},{"t":229.6,"y":38.76,"d":"up"},{"t":249.8,"y":41.03,"d":"up"},{"t":252.6,"y":40.97,"d":"up"},{"t":279.6,"y":40.83,"d":"up"}
],
"arrowsBot": [
{"t":24.2,"y":42.17,"d":"down"},{"t":55.2,"y":37.54,"d":"down"},{"t":64.7,"y":36.67,"d":"down"},{"t":90.6,"y":33.77,"d":"down"},{"t":104.5,"y":34.06,"d":"down"},{"t":145.4,"y":40.36,"d":"down"},{"t":180.7,"y":39.35,"d":"down"},{"t":211.7,"y":45.58,"d":"down"},{"t":218.9,"y":45.29,"d":"down"},{"t":239.5,"y":44.78,"d":"down"},{"t":251,"y":43.77,"d":"down"},{"t":264.9,"y":48.04,"d":"down"},
{"t":38.1,"y":34.13,"d":"up"},{"t":61.2,"y":35.8,"d":"up"},{"t":80.6,"y":32.03,"d":"up"},{"t":95.7,"y":30.72,"d":"up"},{"t":110,"y":32.46,"d":"up"},{"t":162.1,"y":34.42,"d":"up"},{"t":166.4,"y":34.64,"d":"up"},{"t":231.6,"y":39.71,"d":"up"},{"t":247.9,"y":41.09,"d":"up"},{"t":255.8,"y":43.19,"d":"up"},{"t":281.2,"y":43.19,"d":"up"}
],
"stoch": [
{"t":5.2,"v":84.3,"s":"Top"},{"t":25,"v":84.3,"s":"Top"},{"t":26.2,"v":83.5,"s":"Top"},{"t":64.7,"v":81.8,"s":"Top"},{"t":72.7,"v":81.5,"s":"Top"},{"t":74.7,"v":72.3,"s":"Top"},{"t":110.8,"v":72.3,"s":"Top"},{"t":113.6,"v":84.3,"s":"Top"},{"t":153.3,"v":83.3,"s":"Top"},{"t":173.5,"v":83,"s":"Top"},{"t":176,"v":74.5,"s":"Top"},{"t":203.8,"v":74.5,"s":"Top"},{"t":206.2,"v":87.2,"s":"Top"},{"t":255.8,"v":87.2,"s":"Top"},{"t":256.6,"v":91.87,"s":"Top"},{"t":281.6,"v":91.87,"s":"Top"},
{"t":3.2,"v":47.9,"s":"Bottom"},{"t":6.4,"v":51.6,"s":"Bottom"},{"t":23.4,"v":51.6,"s":"Bottom"},{"t":27,"v":15.2,"s":"Bottom"},{"t":33,"v":10.8,"s":"Bottom"},{"t":90.6,"v":10.8,"s":"Bottom"},{"t":92.5,"v":17.7,"s":"Bottom"},{"t":110.8,"v":19.5,"s":"Bottom"},{"t":150,"v":20.6,"s":"Bottom"},{"t":153.3,"v":17,"s":"Bottom"},{"t":156,"v":11.5,"s":"Bottom"},{"t":213.7,"v":11.5,"s":"Bottom"},{"t":215.7,"v":15.2,"s":"Bottom"},{"t":218.1,"v":22.5,"s":"Bottom"},{"t":219.7,"v":29.8,"s":"Bottom"},{"t":220.3,"v":24.3,"s":"Bottom"},{"t":220.8,"v":23.2,"s":"Bottom"},{"t":272.5,"v":23.2,"s":"Bottom"},{"t":273.3,"v":19.5,"s":"Bottom"},{"t":281.6,"v":18.28,"s":"Bottom"},
{"t":3.2,"v":47.9,"s":"Line"},{"t":5.2,"v":62.9,"s":"Line"},{"t":7.5,"v":86,"s":"Line"},{"t":9.1,"v":80.7,"s":"Line"},{"t":10.3,"v":75.2,"s":"Line"},{"t":13.1,"v":84.7,"s":"Line"},{"t":15.5,"v":77,"s":"Line"},{"t":19.5,"v":69.8,"s":"Line"},{"t":23,"v":62.6,"s":"Line"},{"t":25,"v":41,"s":"Line"},{"t":27,"v":13.7,"s":"Line"},{"t":29,"v":11.5,"s":"Line"},{"t":30.2,"v":15,"s":"Line"},{"t":32.2,"v":8,"s":"Line"},{"t":34.2,"v":15,"s":"Line"},{"t":36.9,"v":37,"s":"Line"},{"t":39.3,"v":47.9,"s":"Line"},{"t":43.3,"v":62.4,"s":"Line"},{"t":47.3,"v":73.5,"s":"Line"},{"t":50,"v":66,"s":"Line"},{"t":52.8,"v":66.8,"s":"Line"},{"t":55.2,"v":47.9,"s":"Line"},{"t":58.8,"v":41,"s":"Line"},{"t":61.2,"v":75,"s":"Line"},{"t":63.2,"v":57,"s":"Line"},{"t":65.9,"v":22.5,"s":"Line"},{"t":69.1,"v":33.4,"s":"Line"},{"t":73.9,"v":37,"s":"Line"},{"t":77.9,"v":17,"s":"Line"},{"t":80.6,"v":29.8,"s":"Line"},{"t":84.6,"v":55,"s":"Line"},{"t":87.8,"v":69,"s":"Line"},{"t":90.6,"v":30,"s":"Line"},{"t":92.5,"v":17,"s":"Line"},{"t":94.9,"v":37,"s":"Line"},{"t":100.5,"v":73.5,"s":"Line"},{"t":102.9,"v":62.4,"s":"Line"},{"t":106.5,"v":22.5,"s":"Line"},{"t":108.8,"v":41,"s":"Line"},{"t":112.4,"v":80.7,"s":"Line"},{"t":114.4,"v":86,"s":"Line"},{"t":118.8,"v":69.8,"s":"Line"},{"t":122.7,"v":71.6,"s":"Line"},{"t":127.5,"v":77.8,"s":"Line"},{"t":130.7,"v":66,"s":"Line"},{"t":134.7,"v":41,"s":"Line"},{"t":138.6,"v":33.4,"s":"Line"},{"t":143.4,"v":73.5,"s":"Line"},{"t":146.6,"v":51.6,"s":"Line"},{"t":150.1,"v":49.8,"s":"Line"},{"t":152.5,"v":25,"s":"Line"},{"t":153.3,"v":15,"s":"Line"},{"t":155.3,"v":9.7,"s":"Line"},{"t":158.5,"v":18.8,"s":"Line"},{"t":161.3,"v":35,"s":"Line"},{"t":164,"v":28,"s":"Line"},{"t":166.4,"v":46,"s":"Line"},{"t":168,"v":66,"s":"Line"},{"t":170,"v":57,"s":"Line"},{"t":172.4,"v":77,"s":"Line"},{"t":175.2,"v":69.8,"s":"Line"},{"t":178.3,"v":58.8,"s":"Line"},{"t":182.3,"v":46,"s":"Line"},{"t":184.3,"v":55,"s":"Line"},{"t":186.3,"v":69.8,"s":"Line"},{"t":188.3,"v":64.3,"s":"Line"},{"t":191.8,"v":80.7,"s":"Line"},{"t":194.2,"v":73.5,"s":"Line"},{"t":198.2,"v":73.5,"s":"Line"},{"t":202.2,"v":75.2,"s":"Line"},{"t":204.2,"v":84.3,"s":"Line"},{"t":206.2,"v":91,"s":"Line"},{"t":208.9,"v":86,"s":"Line"},{"t":211.7,"v":73.5,"s":"Line"},{"t":214.1,"v":58.8,"s":"Line"},{"t":216.1,"v":57,"s":"Line"},{"t":218.1,"v":62.5,"s":"Line"},{"t":219.7,"v":33.4,"s":"Line"},{"t":220.8,"v":22.5,"s":"Line"},{"t":222,"v":31.5,"s":"Line"},{"t":223.6,"v":29.8,"s":"Line"},{"t":225.6,"v":18.8,"s":"Line"},{"t":227.6,"v":20.6,"s":"Line"},{"t":230,"v":29.8,"s":"Line"},{"t":232.8,"v":58.8,"s":"Line"},{"t":235.9,"v":86,"s":"Line"},{"t":238.7,"v":69.8,"s":"Line"},{"t":241.5,"v":48,"s":"Line"},{"t":243.5,"v":37.8,"s":"Line"},{"t":245.9,"v":40.7,"s":"Line"},{"t":248.7,"v":49.8,"s":"Line"},{"t":249.9,"v":49.8,"s":"Line"},{"t":251.8,"v":33.4,"s":"Line"},{"t":253.8,"v":42.5,"s":"Line"},{"t":256.6,"v":94.5,"s":"Line"},{"t":259.4,"v":88,"s":"Line"},{"t":261.8,"v":79,"s":"Line"},{"t":264.5,"v":70,"s":"Line"},{"t":267.3,"v":48,"s":"Line"},{"t":269.7,"v":26,"s":"Line"},{"t":272.5,"v":18.8,"s":"Line"},{"t":273.7,"v":15.2,"s":"Line"},{"t":275.7,"v":18.8,"s":"Line"},{"t":278.4,"v":28,"s":"Line"},{"t":279.6,"v":37,"s":"Line"},{"t":281.6,"v":66.3,"s":"Line"},
{"t":3.6,"v":47.9,"s":"Signal"},{"t":7.5,"v":82.5,"s":"Signal"},{"t":10.3,"v":73.5,"s":"Signal"},{"t":13.1,"v":77,"s":"Signal"},{"t":18.3,"v":68,"s":"Signal"},{"t":23,"v":60.7,"s":"Signal"},{"t":25.4,"v":35.2,"s":"Signal"},{"t":28.2,"v":24.3,"s":"Signal"},{"t":32.2,"v":13.4,"s":"Signal"},{"t":35,"v":20.6,"s":"Signal"},{"t":38.1,"v":33.4,"s":"Signal"},{"t":42.1,"v":49.8,"s":"Signal"},{"t":47.3,"v":66,"s":"Signal"},{"t":50,"v":68,"s":"Signal"},{"t":54,"v":62.5,"s":"Signal"},{"t":58.8,"v":46,"s":"Signal"},{"t":62,"v":60.7,"s":"Signal"},{"t":64.7,"v":40.7,"s":"Signal"},{"t":67.1,"v":31.5,"s":"Signal"},{"t":72.7,"v":29.8,"s":"Signal"},{"t":77.9,"v":23.2,"s":"Signal"},{"t":80.6,"v":26,"s":"Signal"},{"t":84.6,"v":37,"s":"Signal"},{"t":88.6,"v":58.8,"s":"Signal"},{"t":91.8,"v":35.2,"s":"Signal"},{"t":94.5,"v":29.8,"s":"Signal"},{"t":100.5,"v":62.5,"s":"Signal"},{"t":104.5,"v":51.6,"s":"Signal"},{"t":107.6,"v":37,"s":"Signal"},{"t":110.8,"v":62.5,"s":"Signal"},{"t":114.8,"v":76.3,"s":"Signal"},{"t":118.8,"v":73.5,"s":"Signal"},{"t":122.7,"v":71.6,"s":"Signal"},{"t":127.5,"v":75,"s":"Signal"},{"t":132.3,"v":66,"s":"Signal"},{"t":137.4,"v":44.3,"s":"Signal"},{"t":140.2,"v":48,"s":"Signal"},{"t":144.2,"v":62.5,"s":"Signal"},{"t":146.6,"v":53.4,"s":"Signal"},{"t":150.5,"v":51.6,"s":"Signal"},{"t":153.3,"v":30.5,"s":"Signal"},{"t":156.1,"v":20.6,"s":"Signal"},{"t":158.5,"v":17,"s":"Signal"},{"t":161.3,"v":26,"s":"Signal"},{"t":164,"v":29.8,"s":"Signal"},{"t":166.4,"v":40.7,"s":"Signal"},{"t":169.2,"v":51.6,"s":"Signal"},{"t":173.2,"v":68,"s":"Signal"},{"t":176.4,"v":69.8,"s":"Signal"},{"t":179.9,"v":60.7,"s":"Signal"},{"t":183.9,"v":51.6,"s":"Signal"},{"t":187.9,"v":62.5,"s":"Signal"},{"t":191.8,"v":73.5,"s":"Signal"},{"t":197,"v":74,"s":"Signal"},{"t":202.2,"v":75.2,"s":"Signal"},{"t":205.7,"v":86,"s":"Signal"},{"t":208.1,"v":87.2,"s":"Signal"},{"t":211.7,"v":77,"s":"Signal"},{"t":215.7,"v":66,"s":"Signal"},{"t":218.1,"v":64.3,"s":"Signal"},{"t":220.8,"v":40.7,"s":"Signal"},{"t":224.8,"v":28,"s":"Signal"},{"t":227.6,"v":24.3,"s":"Signal"},{"t":231.6,"v":37,"s":"Signal"},{"t":235.9,"v":71.6,"s":"Signal"},{"t":239.5,"v":62.5,"s":"Signal"},{"t":243.5,"v":44.3,"s":"Signal"},{"t":245.9,"v":44.3,"s":"Signal"},{"t":248.7,"v":48,"s":"Signal"},{"t":251.4,"v":40.7,"s":"Signal"},{"t":253.8,"v":44.3,"s":"Signal"},{"t":256.6,"v":70,"s":"Signal"},{"t":259.8,"v":79,"s":"Signal"},{"t":263.4,"v":75.2,"s":"Signal"},{"t":267.3,"v":57,"s":"Signal"},{"t":271.3,"v":29.8,"s":"Signal"},{"t":273.7,"v":22.5,"s":"Signal"},{"t":277.3,"v":24.3,"s":"Signal"},{"t":279.3,"v":28,"s":"Signal"},{"t":281.6,"v":48.2,"s":"Signal"}
],
"trend": [
{"t":1.2,"v":38.4},{"t":3.6,"v":38.1},{"t":6.4,"v":38.77},{"t":8.3,"v":40.43},{"t":11.5,"v":41.38},{"t":15.5,"v":42.97},{"t":18.3,"v":43.1},{"t":21.4,"v":43.5},{"t":23.4,"v":43.77},{"t":25.4,"v":43.5},{"t":27,"v":42.4},{"t":29,"v":40.43},{"t":30.2,"v":38.04},{"t":33.4,"v":34.86},{"t":36.9,"v":33.55},{"t":38.9,"v":33.4},{"t":42.1,"v":34.13},{"t":46.1,"v":35.58},{"t":50,"v":37.54},{"t":53.2,"v":38.6},{"t":55.2,"v":38.5},{"t":58,"v":37.54},{"t":62,"v":36.3},{"t":65.9,"v":35.1},{"t":68.7,"v":34.13},{"t":72.7,"v":32.25},{"t":76.7,"v":30.5},{"t":79.8,"v":30.07},{"t":83,"v":30.4},{"t":86.6,"v":31.74},{"t":89.8,"v":32.97},{"t":93.7,"v":32.1},{"t":95.7,"v":32.1},{"t":98.9,"v":34.13},{"t":102.9,"v":36.09},{"t":105.7,"v":35.58},{"t":108.4,"v":33.7},{"t":109.6,"v":33.4},{"t":112.4,"v":34.86},{"t":114.8,"v":37.03},{"t":117.6,"v":38.48},{"t":120.7,"v":40.43},{"t":125.5,"v":42.1},{"t":129.5,"v":43.1},{"t":132.3,"v":43.33},{"t":134.7,"v":42.8},{"t":138.6,"v":41.16},{"t":141.4,"v":40.65},{"t":144.6,"v":41.67},{"t":147.4,"v":40.65},{"t":150.5,"v":39.56},{"t":153.3,"v":38.8},{"t":156.1,"v":36.6},{"t":158.5,"v":34.42},{"t":161.3,"v":33.9},{"t":163.6,"v":33.6},{"t":166,"v":32.97},{"t":168,"v":33.4},{"t":170.4,"v":35.58},{"t":173.2,"v":37.32},{"t":176,"v":38.99},{"t":178.3,"v":40.43},{"t":181.1,"v":40.6},{"t":183.9,"v":40.0},{"t":186.3,"v":40.43},{"t":193,"v":41.88},{"t":197,"v":42.75},{"t":202.2,"v":43.55},{"t":206.2,"v":45.5},{"t":210.1,"v":47.54},{"t":212.9,"v":47.54},{"t":216.1,"v":47.32},{"t":218.1,"v":47.54},{"t":220,"v":46.45},{"t":222,"v":44.78},{"t":224.8,"v":42.1},{"t":226.8,"v":39.93},{"t":228.8,"v":38.04},{"t":230.8,"v":37.32},{"t":232.8,"v":38.04},{"t":234,"v":40.43},{"t":235.5,"v":43.1},{"t":237.9,"v":45.72},{"t":239.5,"v":45.87},{"t":241.9,"v":44.57},{"t":244.7,"v":42.6},{"t":248.7,"v":41.88},{"t":251.4,"v":41.16},{"t":253.8,"v":40.58},{"t":255.8,"v":43.1},{"t":257.8,"v":46.0},{"t":259.8,"v":48.4},{"t":261.8,"v":50.36},{"t":263.7,"v":50.8},{"t":265.7,"v":50.36},{"t":268.5,"v":48.6},{"t":271.3,"v":46.2},{"t":273.3,"v":44.28},{"t":275.3,"v":42.1},{"t":276.5,"v":40.43},{"t":277.3,"v":39.93},{"t":278.5,"v":38.99},{"t":279.6,"v":38.48},{"t":280.8,"v":39.0},{"t":281.6,"v":39.91}
],
"segs": [
{"t0":0,"t1":9.1,"v":37.32,"k":"Top"},{"t0":9.1,"t1":13.1,"v":38.77,"k":"Top"},{"t0":13.1,"t1":51.2,"v":41.52,"k":"Top"},{"t0":50.8,"t1":64.7,"v":36.8,"k":"Top"},{"t0":62,"t1":96.9,"v":38.04,"k":"Top"},{"t0":96.5,"t1":100.9,"v":33.62,"k":"Top"},{"t0":100.9,"t1":116.4,"v":34.35,"k":"Top"},{"t0":115.6,"t1":122.3,"v":36.8,"k":"Top"},{"t0":122.3,"t1":128.3,"v":38.1,"k":"Top"},{"t0":128.3,"t1":140.6,"v":40.14,"k":"Top"},{"t0":140.6,"t1":177.2,"v":40.65,"k":"Top"},{"t0":177.2,"t1":191.8,"v":38.77,"k":"Top"},{"t0":191.8,"t1":195.8,"v":39.7,"k":"Top"},{"t0":196.2,"t1":200.2,"v":40.2,"k":"Top"},{"t0":204.2,"t1":208.9,"v":41.0,"k":"Top"},{"t0":208.9,"t1":237.5,"v":45.14,"k":"Top"},{"t0":237.5,"t1":256.6,"v":45.36,"k":"Top"},{"t0":256.6,"t1":281.6,"v":46.81,"k":"Top"},
{"t0":0,"t1":29,"v":35.87,"k":"Bottom"},{"t0":29,"t1":67.1,"v":38.77,"k":"Bottom"},{"t0":65.9,"t1":77.9,"v":34.5,"k":"Bottom"},{"t0":77.9,"t1":91,"v":32.17,"k":"Bottom"},{"t0":91,"t1":154.5,"v":31.74,"k":"Bottom"},{"t0":153.3,"t1":158.5,"v":36.6,"k":"Bottom"},{"t0":158.1,"t1":166.4,"v":34.7,"k":"Bottom"},{"t0":165.2,"t1":225.6,"v":34.13,"k":"Bottom"},{"t0":224.8,"t1":232.8,"v":39.93,"k":"Bottom"},{"t0":231.6,"t1":251.8,"v":40.87,"k":"Bottom"},{"t0":251.8,"t1":281.6,"v":41.81,"k":"Bottom"}
]
},
"vconcat": [
{
"width": 715, "height": 293,
"layer": [
{"data": {"name": "profile"},
 "mark": {"type": "bar", "orient": "horizontal", "color": "#C0C0C0", "size": 3.8},
 "encoding": {
  "y": {"field": "p", "type": "quantitative", "scale": {"domain": [29.1, 49.31], "nice": false, "zero": false}, "axis": null},
  "x": {"field": "pv", "type": "quantitative", "scale": {"domain": [0, 776], "range": [776, 0], "nice": false}, "axis": null, "stack": null}}},
{"data": {"name": "ohlc"},
 "mark": {"type": "bar", "orient": "vertical", "color": "#F9AE95", "size": 1.9},
 "encoding": {
  "x": {"field": "t", "type": "quantitative", "scale": {"domain": [0, 284], "nice": false, "zero": false}, "axis": null},
  "y": {"field": "v", "type": "quantitative", "scale": {"domain": [0, 13.4], "nice": false}, "axis": null, "stack": null}}},
{
 "layer": [
  {"data": {"name": "one"}, "mark": {"type": "rule", "color": "black", "strokeDash": [1, 9]}, "encoding": {"x": {"datum": 134.6, "type": "quantitative", "scale": {"domain": [0, 284], "nice": false, "zero": false}}}},
  {"data": {"name": "levels"},
   "mark": {"type": "line", "strokeWidth": 1},
   "encoding": {
    "x": {"field": "t", "type": "quantitative", "scale": {"domain": [0, 284], "nice": false, "zero": false},
     "axis": {"values": [1, 28.2, 49.2, 70.3, 93.3, 112.4, 134.6, 154.5, 173.5, 195.8, 218, 236.7, 258.1, 280],
      "labelExpr": "datum.value < 10 ? 'Jun' : datum.value < 40 ? 'Aug' : datum.value < 60 ? 'Sep' : datum.value < 80 ? 'Oct' : datum.value < 100 ? 'Nov' : datum.value < 120 ? 'Dec' : datum.value < 140 ? '2026' : datum.value < 160 ? 'Feb' : datum.value < 180 ? 'Mar' : datum.value < 200 ? 'Apr' : datum.value < 225 ? 'May' : datum.value < 245 ? 'Jun' : datum.value < 265 ? 'Jul' : 'Aug'",
      "grid": false, "domain": false, "tickSize": 6, "tickColor": "black", "labelAlign": "left", "labelBaseline": "top", "labelOffset": 2, "labelPadding": -4, "labelFontSize": 12, "labelColor": "#111111", "labelFont": "Liberation Sans", "labelOverlap": false, "labelFlush": false, "title": null}},
    "y": {"field": "v", "type": "quantitative", "scale": {"domain": [29.1, 49.31], "nice": false, "zero": false},
     "axis": {"orient": "right", "values": [30, 32, 34, 36, 38, 40, 42, 44, 46, 48], "grid": true, "gridColor": "black", "gridDash": [1, 9], "gridOpacity": 1, "domain": false, "tickSize": 4, "tickColor": "black", "labelAlign": "right", "labelBaseline": "middle", "labelPadding": 54, "labelFontSize": 13.5, "labelColor": "#111111", "labelFont": "Liberation Sans", "title": null, "zindex": 1}},
    "color": {"field": "s", "type": "nominal", "scale": {"domain": ["Res-2", "Sup-2", "Sup-1", "Res-1"], "range": ["#ff0000", "#008000", "#0000ff", "#ff00ff"]}, "legend": null}}},
  {"data": {"name": "ohlc"},
   "mark": {"type": "rule", "color": "black", "strokeWidth": 1},
   "encoding": {"x": {"field": "t", "type": "quantitative"}, "y": {"field": "l", "type": "quantitative"}, "y2": {"field": "h"}}},
  {"data": {"name": "ohlc"},
   "mark": {"type": "bar", "orient": "vertical", "size": 2.2, "stroke": "black", "strokeWidth": 0.8},
   "encoding": {"x": {"field": "t", "type": "quantitative"}, "y": {"field": "o", "type": "quantitative"}, "y2": {"field": "c"},
    "fill": {"condition": {"test": "datum.c >= datum.o", "value": "white"}, "value": "black"}}},
  {"data": {"name": "arrowsTop"},
   "mark": {"type": "point", "filled": true, "opacity": 1, "size": 225, "strokeWidth": 0},
   "encoding": {"x": {"field": "t", "type": "quantitative"}, "y": {"field": "y", "type": "quantitative"},
    "shape": {"field": "d", "type": "nominal", "scale": {"domain": ["down", "up"], "range": ["M0,1L0.7,0.1L0.25,0.1L0.25,-1L-0.25,-1L-0.25,0.1L-0.7,0.1Z", "M0,-1L0.7,-0.1L0.25,-0.1L0.25,1L-0.25,1L-0.25,-0.1L-0.7,-0.1Z"]}, "legend": null},
    "color": {"field": "d", "type": "nominal", "scale": {"domain": ["down", "up"], "range": ["#ff0000", "#008000"]}, "legend": null}}},
  {"data": {"name": "one"}, "mark": {"type": "rect", "color": "white"}, "encoding": {"x": {"datum": 0.8, "type": "quantitative"}, "x2": {"datum": 181.9}, "y": {"datum": 49.06, "type": "quantitative"}, "y2": {"datum": 49.4}}},
  {"data": {"name": "one"}, "mark": {"type": "text", "align": "left", "baseline": "middle", "fontSize": 12, "font": "Liberation Sans", "color": "#111111"}, "encoding": {"x": {"datum": 2.38, "type": "quantitative"}, "y": {"datum": 49.172, "type": "quantitative"}, "text": {"value": "PPLI - Daily 2026-08-05 Open 47.13 \u00a0High 47.58 \u00a0Low 43.965 \u00a0Close 44.13 (-5.0%)"}}},
  {"data": {"name": "one"}, "mark": {"type": "text", "align": "left", "baseline": "middle", "fontSize": 12, "font": "Liberation Sans", "color": "#111111"}, "encoding": {"x": {"datum": 2.38, "type": "quantitative"}, "y": {"datum": 48.21, "type": "quantitative"}, "text": {"value": "Vol 1,368,234"}}},
  {"data": {"name": "one"}, "mark": {"type": "text", "align": "left", "baseline": "middle", "fontSize": 12, "font": "Liberation Sans", "color": "#ff00ff"}, "encoding": {"x": {"datum": 33.37, "type": "quantitative"}, "y": {"datum": 48.21, "type": "quantitative"}, "text": {"value": "Res-1"}}},
  {"data": {"name": "one"}, "mark": {"type": "text", "align": "left", "baseline": "middle", "fontSize": 12, "font": "Liberation Sans", "color": "#111111"}, "encoding": {"x": {"datum": 49.25, "type": "quantitative"}, "y": {"datum": 48.21, "type": "quantitative"}, "text": {"value": "= 46.00,"}}},
  {"data": {"name": "one"}, "mark": {"type": "text", "align": "left", "baseline": "middle", "fontSize": 12, "font": "Liberation Sans", "color": "#ff0000"}, "encoding": {"x": {"datum": 66.73, "type": "quantitative"}, "y": {"datum": 48.21, "type": "quantitative"}, "text": {"value": "Res-2"}}},
  {"data": {"name": "one"}, "mark": {"type": "text", "align": "left", "baseline": "middle", "fontSize": 12, "font": "Liberation Sans", "color": "#111111"}, "encoding": {"x": {"datum": 81.43, "type": "quantitative"}, "y": {"datum": 48.21, "type": "quantitative"}, "text": {"value": "= 46.94,"}}},
  {"data": {"name": "one"}, "mark": {"type": "text", "align": "left", "baseline": "middle", "fontSize": 12, "font": "Liberation Sans", "color": "#0000ff"}, "encoding": {"x": {"datum": 100.1, "type": "quantitative"}, "y": {"datum": 48.21, "type": "quantitative"}, "text": {"value": "Sup-1"}}},
  {"data": {"name": "one"}, "mark": {"type": "text", "align": "left", "baseline": "middle", "fontSize": 12, "font": "Liberation Sans", "color": "#111111"}, "encoding": {"x": {"datum": 115.2, "type": "quantitative"}, "y": {"datum": 48.21, "type": "quantitative"}, "text": {"value": "= 41.91,"}}},
  {"data": {"name": "one"}, "mark": {"type": "text", "align": "left", "baseline": "middle", "fontSize": 12, "font": "Liberation Sans", "color": "#008000"}, "encoding": {"x": {"datum": 132.3, "type": "quantitative"}, "y": {"datum": 48.21, "type": "quantitative"}, "text": {"value": "Sup-2"}}},
  {"data": {"name": "one"}, "mark": {"type": "text", "align": "left", "baseline": "middle", "fontSize": 12, "font": "Liberation Sans", "color": "#111111"}, "encoding": {"x": {"datum": 147.4, "type": "quantitative"}, "y": {"datum": 48.21, "type": "quantitative"}, "text": {"value": "= 41.47"}}}
 ],
 "resolve": {"scale": {"color": "independent", "shape": "independent"}}
}
],
"resolve": {"scale": {"x": "independent", "y": "independent"}}
},
{
"width": 715, "height": 97,
"view": {"stroke": null},
"layer": [
 {"data": {"name": "one"}, "mark": {"type": "rect", "filled": false, "color": "black", "strokeWidth": 1},
  "encoding": {"x": {"datum": 0, "type": "quantitative", "scale": {"domain": [0, 284], "nice": false, "zero": false}, "axis": null}, "x2": {"datum": 284}, "y": {"datum": 5, "type": "quantitative", "scale": {"domain": [5, 110.92], "nice": false, "zero": false}}, "y2": {"datum": 100}}},
 {"data": {"name": "stoch"},
  "mark": {"type": "line", "strokeWidth": 1},
  "encoding": {
   "x": {"field": "t", "type": "quantitative", "scale": {"domain": [0, 284], "nice": false, "zero": false}, "axis": null},
   "y": {"field": "v", "type": "quantitative", "scale": {"domain": [5, 110.92], "nice": false, "zero": false},
    "axis": {"orient": "right", "values": [20, 40, 60, 80, 100], "grid": true, "gridColor": "black", "gridDash": [1, 9], "gridOpacity": 1, "domain": false, "tickSize": 4, "tickColor": "black", "labelAlign": "right", "labelBaseline": "middle", "labelPadding": 54, "labelFontSize": 13.5, "labelColor": "#111111", "labelFont": "Liberation Sans", "title": null}},
   "color": {"field": "s", "type": "nominal", "scale": {"domain": ["Top", "Bottom", "Line", "Signal"], "range": ["black", "black", "#ff0000", "#0000ff"]}, "legend": null}}},
 {"data": {"name": "one"}, "mark": {"type": "rect", "color": "white"}, "encoding": {"x": {"datum": 0.8, "type": "quantitative"}, "x2": {"datum": 140.6}, "y": {"datum": 97.6, "type": "quantitative"}, "y2": {"datum": 102.4}}},
 {"data": {"name": "one"}, "mark": {"type": "text", "align": "left", "baseline": "middle", "fontSize": 12, "font": "Liberation Sans", "color": "#111111"}, "encoding": {"x": {"datum": 2.38, "type": "quantitative"}, "y": {"datum": 98.9, "type": "quantitative"}, "text": {"value": "PPLI -"}}},
 {"data": {"name": "one"}, "mark": {"type": "text", "align": "left", "baseline": "middle", "fontSize": 12, "font": "Liberation Sans", "color": "#ff0000"}, "encoding": {"x": {"datum": 16.95, "type": "quantitative"}, "y": {"datum": 98.9, "type": "quantitative"}, "text": {"value": "Line"}}},
 {"data": {"name": "one"}, "mark": {"type": "text", "align": "left", "baseline": "middle", "fontSize": 12, "font": "Liberation Sans", "color": "#111111"}, "encoding": {"x": {"datum": 27.8, "type": "quantitative"}, "y": {"datum": 98.9, "type": "quantitative"}, "text": {"value": "= 66.33, Top = 91.87, Bottom = 18.28,"}}},
 {"data": {"name": "one"}, "mark": {"type": "text", "align": "left", "baseline": "middle", "fontSize": 12, "font": "Liberation Sans", "color": "#0000ff"}, "encoding": {"x": {"datum": 110.3, "type": "quantitative"}, "y": {"datum": 98.9, "type": "quantitative"}, "text": {"value": "Signal"}}},
 {"data": {"name": "one"}, "mark": {"type": "text", "align": "left", "baseline": "middle", "fontSize": 12, "font": "Liberation Sans", "color": "#111111"}, "encoding": {"x": {"datum": 124.9, "type": "quantitative"}, "y": {"datum": 98.9, "type": "quantitative"}, "text": {"value": "= 48.23"}}}
]
},
{
"width": 715, "height": 314,
"layer": [
 {"data": {"name": "one"}, "mark": {"type": "rule", "color": "black", "strokeDash": [1, 9]}, "encoding": {"x": {"datum": 134.6, "type": "quantitative", "scale": {"domain": [0, 284], "nice": false, "zero": false}}}},
 {"data": {"name": "trend"},
  "mark": {"type": "line", "color": "#0000ff", "strokeWidth": 1, "interpolate": "monotone"},
  "encoding": {
   "x": {"field": "t", "type": "quantitative", "scale": {"domain": [0, 284], "nice": false, "zero": false},
    "axis": {"values": [1, 28.2, 49.2, 70.3, 93.3, 112.4, 134.6, 154.5, 173.5, 195.8, 218, 236.7, 258.1, 280],
     "labelExpr": "datum.value < 10 ? 'Jun' : datum.value < 40 ? 'Aug' : datum.value < 60 ? 'Sep' : datum.value < 80 ? 'Oct' : datum.value < 100 ? 'Nov' : datum.value < 120 ? 'Dec' : datum.value < 140 ? '2026' : datum.value < 160 ? 'Feb' : datum.value < 180 ? 'Mar' : datum.value < 200 ? 'Apr' : datum.value < 225 ? 'May' : datum.value < 245 ? 'Jun' : datum.value < 265 ? 'Jul' : 'Aug'",
     "grid": false, "domain": false, "tickSize": 6, "tickColor": "black", "labelAlign": "left", "labelBaseline": "top", "labelOffset": 2, "labelPadding": -4, "labelFontSize": 12, "labelColor": "#111111", "labelFont": "Liberation Sans", "labelOverlap": false, "labelFlush": false, "title": null}},
   "y": {"field": "v", "type": "quantitative", "scale": {"domain": [29.13, 51.88], "nice": false, "zero": false},
    "axis": {"orient": "right", "values": [30, 35, 40, 45, 50], "grid": true, "gridColor": "black", "gridDash": [1, 9], "gridOpacity": 1, "domain": false, "tickSize": 4, "tickColor": "black", "labelAlign": "right", "labelBaseline": "middle", "labelPadding": 54, "labelFontSize": 13.5, "labelColor": "#111111", "labelFont": "Liberation Sans", "title": null, "zindex": 1}}}},
 {"data": {"name": "segs"},
  "mark": {"type": "rule", "strokeWidth": 4},
  "encoding": {"x": {"field": "t0", "type": "quantitative"}, "x2": {"field": "t1"}, "y": {"field": "v", "type": "quantitative"},
   "color": {"field": "k", "type": "nominal", "scale": {"domain": ["Top", "Bottom"], "range": ["#ff0000", "#008000"]}, "legend": null}}},
 {"data": {"name": "ohlc"},
  "mark": {"type": "rule", "color": "black", "strokeWidth": 1},
  "encoding": {"x": {"field": "t", "type": "quantitative"}, "y": {"field": "l", "type": "quantitative"}, "y2": {"field": "h"}}},
 {"data": {"name": "ohlc"},
  "mark": {"type": "bar", "orient": "vertical", "size": 2.2, "stroke": "black", "strokeWidth": 0.8},
  "encoding": {"x": {"field": "t", "type": "quantitative"}, "y": {"field": "o", "type": "quantitative"}, "y2": {"field": "c"},
   "fill": {"condition": {"test": "datum.c >= datum.o", "value": "white"}, "value": "black"}}},
 {"data": {"name": "arrowsBot"},
  "mark": {"type": "point", "filled": true, "opacity": 1, "size": 225, "strokeWidth": 0},
  "encoding": {"x": {"field": "t", "type": "quantitative"}, "y": {"field": "y", "type": "quantitative"},
   "shape": {"field": "d", "type": "nominal", "scale": {"domain": ["down", "up"], "range": ["M0,1L0.7,0.1L0.25,0.1L0.25,-1L-0.25,-1L-0.25,0.1L-0.7,0.1Z", "M0,-1L0.7,-0.1L0.25,-0.1L0.25,1L-0.25,1L-0.25,-0.1L-0.7,-0.1Z"]}, "legend": null},
   "color": {"field": "d", "type": "nominal", "scale": {"domain": ["down", "up"], "range": ["#ff0000", "#008000"]}, "legend": null}}},
 {"data": {"name": "one"}, "mark": {"type": "rect", "color": "white"}, "encoding": {"x": {"datum": 0.8, "type": "quantitative"}, "x2": {"datum": 170.4}, "y": {"datum": 51.7, "type": "quantitative"}, "y2": {"datum": 51.99}}},
 {"data": {"name": "one"}, "mark": {"type": "text", "align": "left", "baseline": "middle", "fontSize": 12, "font": "Liberation Sans", "color": "#111111"}, "encoding": {"x": {"datum": 2.38, "type": "quantitative"}, "y": {"datum": 51.81, "type": "quantitative"}, "text": {"value": "PPLI - Daily 2026-08-05 Open 47.13,Hi 47.58,Lo 43.965, Close 44.13 (-5.0%)"}}},
 {"data": {"name": "one"}, "mark": {"type": "text", "align": "left", "baseline": "middle", "fontSize": 12, "font": "Liberation Sans", "color": "#111111"}, "encoding": {"x": {"datum": 2.38, "type": "quantitative"}, "y": {"datum": 50.8, "type": "quantitative"}, "text": {"value": "Vol 136,823,392"}}},
 {"data": {"name": "one"}, "mark": {"type": "text", "align": "left", "baseline": "middle", "fontSize": 12, "font": "Liberation Sans", "color": "#ff0000"}, "encoding": {"x": {"datum": 38.8, "type": "quantitative"}, "y": {"datum": 50.8, "type": "quantitative"}, "text": {"value": "Top"}}},
 {"data": {"name": "one"}, "mark": {"type": "text", "align": "left", "baseline": "middle", "fontSize": 12, "font": "Liberation Sans", "color": "#111111"}, "encoding": {"x": {"datum": 49.1, "type": "quantitative"}, "y": {"datum": 50.8, "type": "quantitative"}, "text": {"value": "= 46.81,"}}},
 {"data": {"name": "one"}, "mark": {"type": "text", "align": "left", "baseline": "middle", "fontSize": 12, "font": "Liberation Sans", "color": "#008000"}, "encoding": {"x": {"datum": 66.6, "type": "quantitative"}, "y": {"datum": 50.8, "type": "quantitative"}, "text": {"value": "Bottom"}}},
 {"data": {"name": "one"}, "mark": {"type": "text", "align": "left", "baseline": "middle", "fontSize": 12, "font": "Liberation Sans", "color": "#111111"}, "encoding": {"x": {"datum": 83.1, "type": "quantitative"}, "y": {"datum": 50.8, "type": "quantitative"}, "text": {"value": "= 41.81,"}}},
 {"data": {"name": "one"}, "mark": {"type": "text", "align": "left", "baseline": "middle", "fontSize": 12, "font": "Liberation Sans", "color": "#0000ff"}, "encoding": {"x": {"datum": 101.0, "type": "quantitative"}, "y": {"datum": 50.8, "type": "quantitative"}, "text": {"value": "Trend"}}},
 {"data": {"name": "one"}, "mark": {"type": "text", "align": "left", "baseline": "middle", "fontSize": 12, "font": "Liberation Sans", "color": "#111111"}, "encoding": {"x": {"datum": 115.9, "type": "quantitative"}, "y": {"datum": 50.8, "type": "quantitative"}, "text": {"value": "= 39.91"}}}
],
"resolve": {"scale": {"color": "independent", "shape": "independent"}}
}
]
}
